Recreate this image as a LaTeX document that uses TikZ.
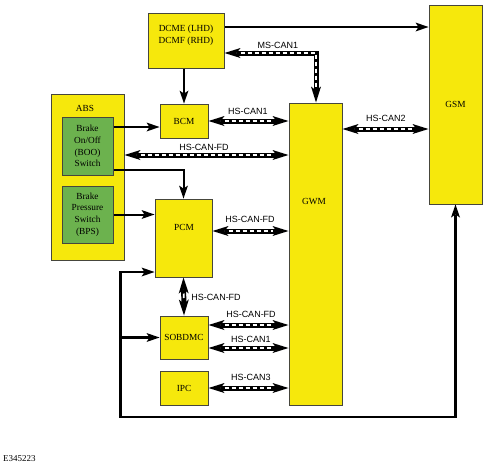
\documentclass[tikz,border=0pt]{standalone}
\usepackage{fontspec}
\setmainfont{Liberation Serif}
\newfontfamily\labfont{Liberation Sans}
\usetikzlibrary{arrows.meta,calc}
\definecolor{ybox}{RGB}{246,232,12}
\definecolor{gbox}{RGB}{108,178,78}
\definecolor{edgec}{RGB}{70,70,60}
\begin{document}
\begin{tikzpicture}[x=1pt,y=-1pt,
  box/.style={draw=edgec, line width=1pt, fill=ybox, inner sep=0pt, font=\fontsize{9.3}{11.7}\selectfont, align=center},
  gbx/.style={box, fill=gbox},
  txt/.style={inner sep=0pt, font=\fontsize{9.3}{11.7}\selectfont, align=center},
  lab/.style={inner sep=0pt, font=\labfont\fontsize{9}{10}\selectfont},
  bus/.style={line width=5pt, line join=miter,
    {Stealth[length=16pt,width=10pt,inset=4pt,line width=0pt]}-{Stealth[length=16pt,width=10pt,inset=4pt,line width=0pt]},
    postaction={draw=white, line width=1.8pt, dash pattern=on 4.5pt off 2.5pt, shorten <=16pt, shorten >=16pt, -}},
  arr/.style={line width=2pt, -{Stealth[length=13pt,width=9pt,inset=3pt,line width=0pt]}},
  wire/.style={line width=2.5pt, line join=miter},
]
\useasboundingbox (0,0) rectangle (488,467);

% boxes
\node[box, minimum width=76pt, minimum height=55pt] (dcme) at (186,40.5) {};
\node[txt] (dcmet) at (186,35) {DCME (LHD)\\DCMF (RHD)};
\node[box, minimum width=48pt, minimum height=34pt] (bcm) at (184,121) {BCM};
\node[box, minimum width=73pt, minimum height=166pt] (abs) at (87.5,177) {};
\node[txt] (abst) at (85,108) {ABS};
\node[gbx, minimum width=51pt, minimum height=58pt] (boo) at (87.5,146) {Brake\\On/Off\\(BOO)\\Switch};
\node[gbx, minimum width=51pt, minimum height=57pt] (bps) at (87.5,214.5) {Brake\\Pressure\\Switch\\(BPS)};
\node[box, minimum width=57pt, minimum height=78pt] (pcm) at (183.5,238) {};
\node[txt] (pcmt) at (184,227) {PCM};
\node[box, minimum width=48pt, minimum height=43pt] (sobdmc) at (184,337.5) {SOBDMC};
\node[box, minimum width=48pt, minimum height=34pt] (ipc) at (184,388) {IPC};
\node[box, minimum width=53pt, minimum height=302pt] (gwm) at (315.5,254) {};
\node[txt] (gwmt) at (314,201) {GWM};
\node[box, minimum width=53pt, minimum height=199pt] (gsm) at (455.5,104.5) {GSM};

% helper coordinates
\coordinate (ms) at (316,53);
\coordinate (top) at (300,27);
\coordinate (fd1) at (200,155);
\coordinate (b1) at (0,127);
\coordinate (b2) at (0,170);
\coordinate (fd2) at (0,231);
\coordinate (c2) at (0,129);
\coordinate (s1) at (0,325);
\coordinate (s2) at (0,348);
\coordinate (lt) at (120.5,272);
\coordinate (lb) at (120.5,417);
\coordinate (rb) at (gsm.south |- lb);

% solid arrows
\draw[arr] (top -| dcme.east) -- (top -| gsm.west);
\draw[arr] (dcme.south -| bcm.north) -- (bcm.north);
\draw[arr] (b1 -| boo.east) -- (b1 -| bcm.west);
\draw[arr] (b2 -| boo.east) -- (b2 -| pcm.north) -- (pcm.north);
\draw[arr] (bps.east) -- (bps.east -| pcm.west);
\draw[wire, {Stealth[length=13pt,width=9pt,inset=3pt,line width=0pt]}-{Stealth[length=13pt,width=9pt,inset=3pt,line width=0pt]}]
  (lt -| pcm.west) -- (lt) -- (lb) -- (rb) -- (gsm.south);
\draw[wire, -{Stealth[length=13pt,width=9pt,inset=3pt,line width=0pt]}] (sobdmc.west -| lt) -- (sobdmc.west);

% buses
\draw[bus] (ms -| dcme.east) -- (ms) -- (gwm.north -| ms);
\draw[bus] (bcm.east) -- (bcm.east -| gwm.west);
\draw[bus] (fd1 -| abs.east) -- (fd1 -| gwm.west);
\draw[bus] (fd2 -| pcm.east) -- (fd2 -| gwm.west);
\draw[bus] (c2 -| gwm.east) -- (c2 -| gsm.west);
\draw[bus] (pcm.south) -- (sobdmc.north);
\draw[bus] (s1 -| sobdmc.east) -- (s1 -| gwm.west);
\draw[bus] (s2 -| sobdmc.east) -- (s2 -| gwm.west);
\draw[bus] (ipc.east) -- (ipc.east -| gwm.west);

% bus labels
\node[lab] (l1) at (278,45) {MS-CAN1};
\node[lab] (l2) at (248,111) {HS-CAN1};
\node[lab] (l3) at (204,147) {HS-CAN-FD};
\node[lab] (l4) at (250,219) {HS-CAN-FD};
\node[lab] (l5) at (386,118) {HS-CAN2};
\node[lab] (l6) at (216,297) {HS-CAN-FD};
\node[lab] (l7) at (251,314) {HS-CAN-FD};
\node[lab] (l8) at (251,339) {HS-CAN1};
\node[lab] (l9) at (251,377) {HS-CAN3};

\node[txt, font=\fontsize{9}{10}\selectfont, anchor=west] (fig) at (3,459) {E345223};
\end{tikzpicture}
\end{document}
